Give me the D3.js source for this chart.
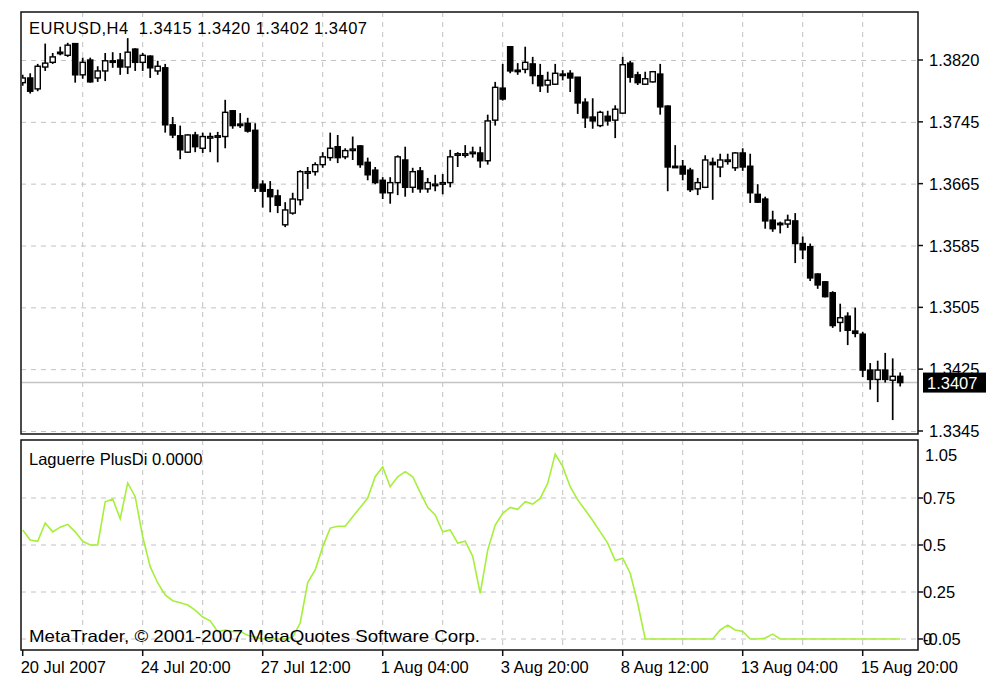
<!DOCTYPE html>
<html><head><meta charset="utf-8">
<script src="https://cdn.jsdelivr.net/npm/d3@7/dist/d3.min.js"></script>
<style>html,body{margin:0;padding:0;background:#fff;}svg{display:block;}text{font-family:"Liberation Sans",Arial,sans-serif;}</style>
</head><body><svg id="c" width="1008" height="699"></svg>
<script>
const open = [1.3791,1.3797,1.3783,1.3811,1.3817,1.3830,1.3826,1.3841,1.3801,1.3820,
1.3797,1.3806,1.3819,1.3820,1.3811,1.3834,1.3817,1.3825,1.3806,1.3810,
1.3737,1.3723,1.3702,1.3724,1.3707,1.3720,1.3722,1.3722,1.3755,1.3738,
1.3739,1.3730,1.3661,1.3654,1.3646,1.3609,1.3624,1.3641,1.3675,1.3677,
1.3686,1.3695,1.3709,1.3696,1.3705,1.3710,1.3689,1.3679,1.3666,1.3650,
1.3663,1.3692,1.3657,1.3678,1.3655,1.3660,1.3661,1.3663,1.3698,1.3698,
1.3701,1.3701,1.3691,1.3743,1.3784,1.3837,1.3807,1.3808,1.3815,1.3800,
1.3788,1.3789,1.3802,1.3803,1.3798,1.3766,1.3747,1.3736,1.3748,1.3743,
1.3752,1.3816,1.3801,1.3789,1.3792,1.3802,1.3761,1.3684,1.3684,1.3679,
1.3655,1.3657,1.3689,1.3683,1.3691,1.3682,1.3701,1.3684,1.3648,1.3642,
1.3615,1.3611,1.3610,1.3614,1.3585,1.3581,1.3546,1.3536,1.3522,1.3484,
1.3492,1.3473,1.3469,1.3423,1.3411,1.3423,1.3410,1.3415];
const high = [1.3801,1.3803,1.3815,1.3841,1.3829,1.3837,1.3842,1.3841,1.3823,1.3823,
1.3812,1.3829,1.3830,1.3829,1.3848,1.3835,1.3829,1.3826,1.3819,1.3815,
1.3747,1.3736,1.3725,1.3728,1.3727,1.3727,1.3728,1.3769,1.3756,1.3752,
1.3746,1.3739,1.3666,1.3665,1.3654,1.3638,1.3650,1.3679,1.3683,1.3689,
1.3702,1.3727,1.3724,1.3707,1.3722,1.3711,1.3695,1.3683,1.3670,1.3670,
1.3698,1.3709,1.3682,1.3683,1.3669,1.3673,1.3674,1.3705,1.3702,1.3711,
1.3709,1.3709,1.3750,1.3792,1.3815,1.3837,1.3816,1.3837,1.3824,1.3815,
1.3805,1.3815,1.3807,1.3807,1.3798,1.3771,1.3771,1.3755,1.3755,1.3762,
1.3824,1.3819,1.3805,1.3805,1.3806,1.3815,1.3762,1.3711,1.3692,1.3682,
1.3669,1.3698,1.3695,1.3700,1.3700,1.3702,1.3707,1.3700,1.3661,1.3645,
1.3627,1.3613,1.3622,1.3624,1.3594,1.3585,1.3547,1.3537,1.3524,1.3508,
1.3497,1.3503,1.3472,1.3432,1.3435,1.3445,1.3438,1.3420];
const low = [1.3787,1.3777,1.3780,1.3806,1.3815,1.3826,1.3824,1.3791,1.3796,1.3791,
1.3792,1.3793,1.3810,1.3801,1.3802,1.3806,1.3806,1.3797,1.3801,1.3727,
1.3720,1.3693,1.3701,1.3702,1.3701,1.3702,1.3689,1.3707,1.3732,1.3733,
1.3727,1.3651,1.3631,1.3625,1.3624,1.3606,1.3622,1.3634,1.3655,1.3672,
1.3682,1.3691,1.3688,1.3693,1.3692,1.3682,1.3666,1.3661,1.3642,1.3636,
1.3647,1.3645,1.3650,1.3650,1.3650,1.3652,1.3648,1.3657,1.3683,1.3695,
1.3695,1.3682,1.3686,1.3736,1.3768,1.3803,1.3801,1.3803,1.3789,1.3779,
1.3778,1.3788,1.3794,1.3779,1.3751,1.3733,1.3732,1.3734,1.3736,1.3720,
1.3751,1.3791,1.3788,1.3788,1.3791,1.3750,1.3652,1.3682,1.3666,1.3651,
1.3647,1.3656,1.3641,1.3670,1.3686,1.3678,1.3678,1.3637,1.3637,1.3604,
1.3600,1.3598,1.3605,1.3560,1.3565,1.3537,1.3527,1.3516,1.3477,1.3472,
1.3455,1.3465,1.3414,1.3398,1.3382,1.3407,1.3359,1.3402];
const close = [1.3797,1.3780,1.3812,1.3816,1.3824,1.3829,1.3839,1.3801,1.3817,1.3792,
1.3806,1.3819,1.3817,1.3811,1.3830,1.3817,1.3826,1.3810,1.3812,1.3737,
1.3724,1.3705,1.3724,1.3709,1.3722,1.3722,1.3723,1.3753,1.3736,1.3736,
1.3729,1.3656,1.3652,1.3645,1.3634,1.3628,1.3642,1.3677,1.3677,1.3686,
1.3696,1.3707,1.3695,1.3704,1.3706,1.3686,1.3673,1.3663,1.3650,1.3663,
1.3696,1.3657,1.3677,1.3655,1.3663,1.3661,1.3663,1.3696,1.3700,1.3700,
1.3702,1.3691,1.3742,1.3785,1.3770,1.3806,1.3806,1.3817,1.3800,1.3787,
1.3794,1.3803,1.3801,1.3797,1.3765,1.3746,1.3742,1.3753,1.3742,1.3757,
1.3814,1.3798,1.3791,1.3796,1.3805,1.3760,1.3683,1.3683,1.3674,1.3654,
1.3663,1.3692,1.3686,1.3692,1.3692,1.3701,1.3683,1.3650,1.3638,1.3614,
1.3604,1.3610,1.3615,1.3585,1.3577,1.3541,1.3532,1.3517,1.3480,1.3490,
1.3474,1.3470,1.3423,1.3411,1.3423,1.3411,1.3415,1.3407];
const plusDi = [0.58,0.527,0.52,0.617,0.57,0.595,0.61,0.57,0.52,0.50,
0.50,0.73,0.745,0.64,0.83,0.757,0.544,0.385,0.298,0.234,
0.204,0.193,0.181,0.154,0.117,0.097,0.039,0.048,0.04,0.04,
0.02,0.01,0,0,0,0,0.01,0.085,0.30,0.367,
0.49,0.59,0.60,0.60,0.65,0.70,0.75,0.863,0.915,0.81,
0.863,0.89,0.863,0.78,0.70,0.66,0.57,0.58,0.51,0.52,
0.44,0.243,0.473,0.606,0.668,0.70,0.69,0.73,0.718,0.748,
0.828,0.984,0.917,0.81,0.74,0.686,0.63,0.57,0.51,0.417,
0.43,0.35,0.19,0,0,0,0,0,0,0,
0,0,0,0.048,0.074,0.048,0.04,0,0,0.005,
0.026,0,0,0,0,0,0,0,0,0,
0,0,0,0,0,0,0,0];
const xTickBars = [0,16,32,48,64,80,96,112];
const xTickLabels = ["20 Jul 2007","24 Jul 20:00","27 Jul 12:00","1 Aug 04:00","3 Aug 20:00","8 Aug 12:00","13 Aug 04:00","15 Aug 20:00"];
const xGridBars = [8,16,24,32,40,48,56,64,72,80,88,96,104,112];
const priceTickValues = [1.3345,1.34242,1.35033,1.35825,1.36617,1.37408,1.3820];
const priceTickLabels = ["1.3345","1.3425","1.3505","1.3585","1.3665","1.3745","1.3820"];
const lowTickValues = [0.75,0.5,0.25,0];
const lowTickLabels = ["0.75","0.5","0.25","0"];
const lowMax = 1.05, lowMin = -0.05;
const titleText = "EURUSD,H4\u00A0\u00A01.3415 1.3420 1.3402 1.3407";
const indText = "Laguerre PlusDi 0.0000";
const copyText = "MetaTrader, \u00A9 2001-2007 MetaQuotes Software Corp.";
const lastPrice = 1.3407;

const svg = d3.select("#c");
const L = 21, R = 918, mT = 12, mB = 434, lT = 440, lB = 650;
const x = d3.scaleLinear().domain([0, 117]).range([22.7, 900.2]);
const yP = d3.scaleLinear().domain([1.3345, 1.3820]).range([431, 60]);
const yL = d3.scaleLinear().domain([0, 0.75]).range([639, 498]);
const gridCol = "#c2c2c2", dash = "5,5";

svg.append("rect").attr("width",1008).attr("height",699).attr("fill","#fff");
const defs = svg.append("defs");
defs.append("clipPath").attr("id","cm").append("rect").attr("x",L+1).attr("y",mT+1).attr("width",R-L-2).attr("height",mB-mT-2);
defs.append("clipPath").attr("id","cl").append("rect").attr("x",L+1).attr("y",lT+1).attr("width",R-L-2).attr("height",lB-lT-2);

const gm = svg.append("g").attr("clip-path","url(#cm)");
gm.selectAll("line.h").data(priceTickValues).join("line")
  .attr("x1",L).attr("x2",R).attr("y1",d=>yP(d)+0.5).attr("y2",d=>yP(d)+0.5)
  .attr("stroke",gridCol).attr("stroke-dasharray",dash);
gm.selectAll("line.v").data(xGridBars).join("line")
  .attr("x1",d=>x(d)).attr("x2",d=>x(d)).attr("y1",mT).attr("y2",mB)
  .attr("stroke",gridCol).attr("stroke-dasharray",dash);
gm.append("line").attr("x1",L).attr("x2",R).attr("y1",yP(lastPrice)).attr("y2",yP(lastPrice))
  .attr("stroke","#c4c4c4").attr("stroke-width",1.5);

const idx = d3.range(open.length);
const cg = gm.append("g");
cg.selectAll("line.w").data(idx).join("line")
  .attr("x1",i=>x(i)).attr("x2",i=>x(i)).attr("y1",i=>yP(high[i])).attr("y2",i=>yP(low[i]))
  .attr("stroke","#000").attr("stroke-width",1.7);
cg.selectAll("rect.b").data(idx).join("rect")
  .attr("x",i=>x(i)-2.6).attr("width",5.2)
  .attr("y",i=>yP(Math.max(open[i],close[i])))
  .attr("height",i=>Math.max(1.5,Math.abs(yP(open[i])-yP(close[i]))))
  .attr("fill",i=>close[i]>open[i]?"#fff":"#000")
  .attr("stroke","#000").attr("stroke-width",1.4);

const gl = svg.append("g").attr("clip-path","url(#cl)");
gl.selectAll("line.h").data(lowTickValues).join("line")
  .attr("x1",L).attr("x2",R).attr("y1",d=>yL(d)).attr("y2",d=>yL(d))
  .attr("stroke",gridCol).attr("stroke-dasharray",dash);
gl.selectAll("line.v").data(xGridBars).join("line")
  .attr("x1",d=>x(d)).attr("x2",d=>x(d)).attr("y1",lT).attr("y2",lB)
  .attr("stroke",gridCol).attr("stroke-dasharray",dash);
gl.append("path").datum(idx)
  .attr("d",d3.line().x(i=>x(i)).y(i=>yL(plusDi[i])))
  .attr("fill","none").attr("stroke","#a6ef3a").attr("stroke-width",1.6);

svg.append("rect").attr("x",L).attr("y",mT).attr("width",R-L).attr("height",mB-mT)
  .attr("fill","none").attr("stroke","#111").attr("stroke-width",1.5);
svg.append("rect").attr("x",L).attr("y",lT).attr("width",R-L).attr("height",lB-lT)
  .attr("fill","none").attr("stroke","#111").attr("stroke-width",1.5);

const fs = 16.5;
svg.selectAll("line.rt").data(priceTickValues).join("line")
  .attr("x1",R).attr("x2",R+5).attr("y1",d=>yP(d)).attr("y2",d=>yP(d)).attr("stroke","#111").attr("stroke-width",1.5);
svg.selectAll("text.rl").data(priceTickValues).join("text")
  .attr("x",929).attr("y",d=>yP(d)+6).attr("font-size",fs).attr("fill","#000")
  .text((d,i)=>priceTickLabels[i]);
svg.append("rect").attr("x",923).attr("y",yP(lastPrice)-10).attr("width",63).attr("height",20).attr("fill","#000");
svg.append("text").attr("x",927).attr("y",yP(lastPrice)+6).attr("font-size",fs).attr("fill","#fff").text(lastPrice.toFixed(4));

svg.selectAll("line.lt").data(lowTickValues).join("line")
  .attr("x1",R).attr("x2",R+5).attr("y1",d=>yL(d)).attr("y2",d=>yL(d)).attr("stroke","#111").attr("stroke-width",1.5);
svg.selectAll("text.ll").data(lowTickValues).join("text")
  .attr("x",923).attr("y",d=>yL(d)+6).attr("font-size",fs).attr("fill","#000")
  .text((d,i)=>lowTickLabels[i]);
svg.append("text").attr("x",925).attr("y",yL(lowMax)+19).attr("font-size",fs).text(lowMax.toFixed(2));
svg.append("text").attr("x",923).attr("y",yL(lowMin)-3).attr("font-size",fs).text(lowMin.toFixed(2));

svg.selectAll("line.xt").data(xTickBars).join("line")
  .attr("x1",d=>x(d)).attr("x2",d=>x(d)).attr("y1",lB).attr("y2",lB+6).attr("stroke","#111").attr("stroke-width",1.5);
svg.selectAll("text.xl").data(xTickBars).join("text")
  .attr("x",d=>x(d)-2).attr("y",673).attr("font-size",fs).attr("fill","#000")
  .text((d,i)=>xTickLabels[i]);

svg.append("text").attr("x",29).attr("y",34).attr("font-size",fs)
  .attr("textLength",338).attr("lengthAdjust","spacing").text(titleText);
svg.append("text").attr("x",29).attr("y",465).attr("font-size",fs).text(indText);
svg.append("text").attr("x",29).attr("y",642).attr("font-size",fs)
  .attr("textLength",451).attr("lengthAdjust","spacingAndGlyphs").text(copyText);
</script></body></html>
